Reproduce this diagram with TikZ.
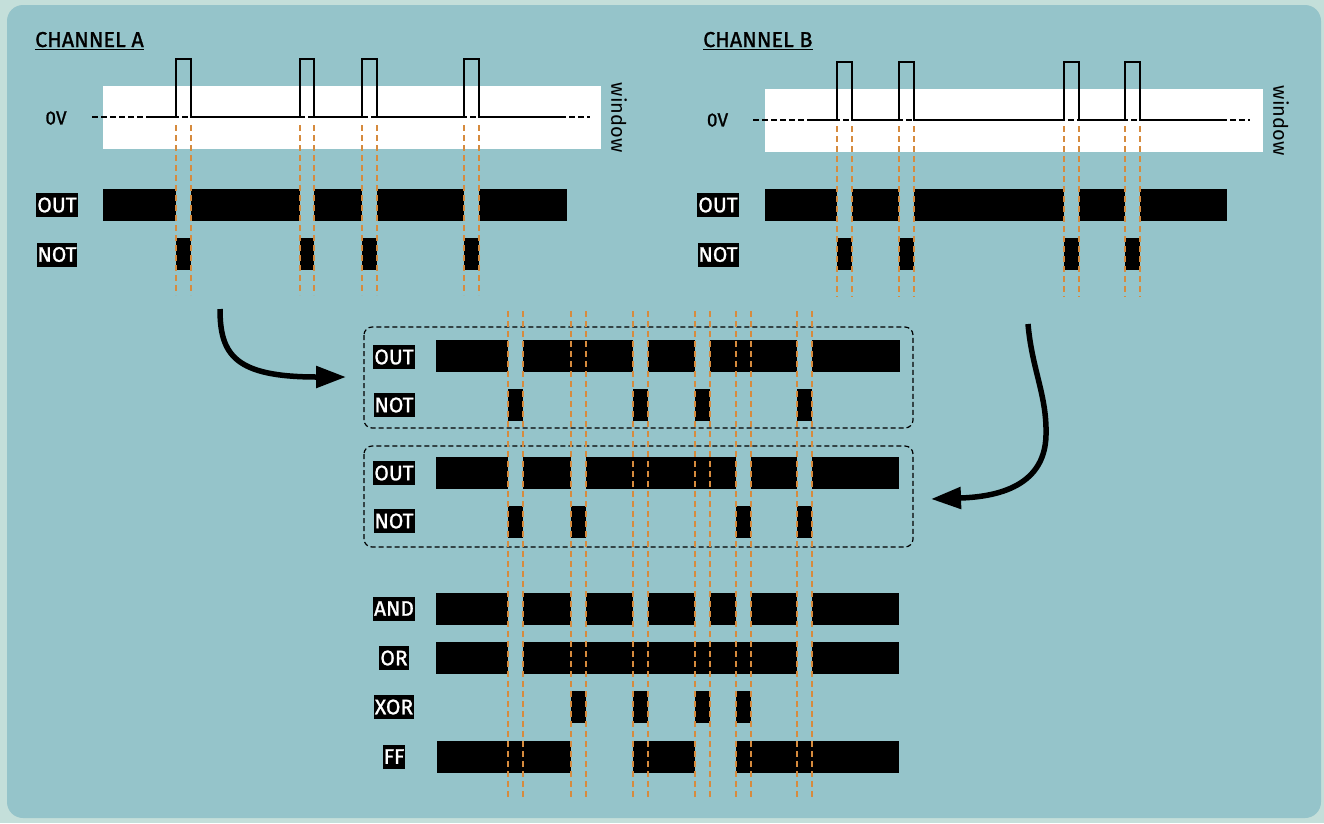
\documentclass[tikz,border=0pt]{standalone}
\usepackage{fontspec}
\setmainfont{Fira Sans}
\newfontfamily\heavyfont[FakeBold=1.2]{Fira Sans}
\usetikzlibrary{arrows.meta}
\definecolor{outerbg}{RGB}{196,223,218}
\definecolor{panel}{RGB}{149,196,202}
\definecolor{edgeline}{RGB}{214,139,62}
\tikzset{
  tag/.style={fill=black,text=white,font=\heavyfont\fontsize{21}{21}\selectfont,
    inner xsep=1pt,inner ysep=0pt,minimum height=24pt,anchor=center},
  title/.style={font=\heavyfont\fontsize{21.5}{21.5}\selectfont,inner sep=0pt,anchor=base west},
  zero/.style={font=\heavyfont\fontsize{19}{19}\selectfont,inner sep=0pt},
  winlabel/.style={font=\fontsize{20}{20}\selectfont,inner sep=0pt,rotate=-90},
  wave/.style={line width=1.7pt,line join=miter},
  ground/.style={line width=1.3pt,dash pattern=on 6pt off 3pt},
  edge/.style={draw=edgeline,line width=1.6pt,dash pattern=on 6pt off 4pt},
  group/.style={draw=black,line width=1.2pt,dash pattern=on 5pt off 3pt,rounded corners=8pt},
  flow/.style={line width=5.5pt,-{Triangle[length=30pt,width=21pt]}},
}
\begin{document}
\begin{tikzpicture}[x=1pt,y=-1pt]
\useasboundingbox (0,0) rectangle (1324,823);
\fill[outerbg] (0,0) rectangle (1324,823);
\fill[panel,rounded corners=16pt] (7,5) rectangle (1321,818);

% ---------- channel A ----------
\node[title] (ta) at (35,47) {CHANNEL A};
\draw[line width=1.2pt] ([yshift=-2.6pt]ta.base west) -- ([yshift=-2.6pt]ta.base east);
\fill[white] (103,86) rectangle (601,149);
\node[zero] (za) at (56,118) {0V};
\node[winlabel] (wa) at (619,117.5) {window};
\draw[ground] (92,117) -- (590,117);
\draw[wave] (148,117) -- (176,117) -- (176,59) -- (191,59) -- (191,117)
  -- (300,117) -- (300,59) -- (314,59) -- (314,117)
  -- (362,117) -- (362,59) -- (377,59) -- (377,117)
  -- (464,117) -- (464,59) -- (479,59) -- (479,117) -- (565,117);
\foreach \a/\b in {103/176,191/300,314/362,377/464,479/567}
  \fill (\a,189) rectangle (\b,221);
\foreach \a/\b in {176/191,300/314,362/377,464/479}
  \fill (\a,238) rectangle (\b,270);
\node[tag] (oa) at (57,205) {OUT};
\node[tag] (na) at (57,254.5) {NOT};
\foreach \x in {176,191,300,314,362,377,464,479}
  \draw[edge] (\x,125) -- (\x,295);

% ---------- channel B ----------
\node[title] (tb) at (703,47) {CHANNEL B};
\draw[line width=1.2pt] ([yshift=-2.6pt]tb.base west) -- ([yshift=-2.6pt]tb.base east);
\fill[white] (765,89) rectangle (1263,152);
\node[zero] (zb) at (717.5,120) {0V};
\node[winlabel] (wb) at (1281,120.5) {window};
\draw[ground] (753,120) -- (1250,120);
\draw[wave] (810,120) -- (837,120) -- (837,62) -- (852,62) -- (852,120)
  -- (899,120) -- (899,62) -- (914,62) -- (914,120)
  -- (1064,120) -- (1064,62) -- (1079,62) -- (1079,120)
  -- (1125,120) -- (1125,62) -- (1140,62) -- (1140,120) -- (1227,120);
\foreach \a/\b in {765/837,852/899,914/1064,1079/1125,1140/1227}
  \fill (\a,189) rectangle (\b,221);
\foreach \a/\b in {837/852,899/914,1064/1079,1125/1140}
  \fill (\a,238) rectangle (\b,270);
\node[tag] (ob) at (718,205) {OUT};
\node[tag] (nb) at (718,254.5) {NOT};
\foreach \x in {837,852,899,914,1064,1079,1125,1140}
  \draw[edge] (\x,126) -- (\x,297);

% ---------- combined timeline ----------
\draw[group] (364,327) rectangle (913,428);
\draw[group] (364,446) rectangle (913,547);

\foreach \a/\b in {436/508,523/633,648/695,710/797,812/900}
  \fill (\a,340) rectangle (\b,372);
\foreach \a/\b in {508/523,633/648,695/710,797/812}
  \fill (\a,389) rectangle (\b,421);
\foreach \a/\b in {436/508,523/571,586/736,751/797,812/899}
  \fill (\a,457) rectangle (\b,489);
\foreach \a/\b in {508/523,571/586,736/751,797/812}
  \fill (\a,506) rectangle (\b,538);
\foreach \a/\b in {436/508,523/571,586/633,648/695,710/736,751/797,812/899}
  \fill (\a,593) rectangle (\b,625);
\foreach \a/\b in {436/508,523/797,812/899}
  \fill (\a,642) rectangle (\b,674);
\foreach \a/\b in {571/586,633/648,695/710,736/751}
  \fill (\a,691) rectangle (\b,723);
\foreach \a/\b in {437/571,633/695,736/899}
  \fill (\a,741) rectangle (\b,773);

\node[tag] (o1) at (394,357) {OUT};
\node[tag] (n1) at (394,405) {NOT};
\node[tag] (o2) at (394,473) {OUT};
\node[tag] (n2) at (394,521) {NOT};
\node[tag] (and) at (394,608.5) {AND};
\node[tag] (or) at (394,658) {OR};
\node[tag] (xor) at (394,707) {XOR};
\node[tag] (ff) at (394,756.5) {FF};

\foreach \x in {508,523,571,586,633,648,695,710,736,751,797,812}
  \draw[edge] (\x,311) -- (\x,800);

% ---------- arrows ----------
\coordinate (sa) at (220,309);
\coordinate (ea) at (346,377);
\draw[flow] (sa) .. controls (220,355) and (235,377) .. (ea);
\coordinate (sb) at (1028,324);
\coordinate (mb) at (1046,435);
\coordinate (eb) at (931,499);
\draw[flow] (sb) .. controls (1032,370) and (1047,395) .. (mb)
  .. controls (1045,490) and (990,497) .. (eb);
\end{tikzpicture}
\end{document}
